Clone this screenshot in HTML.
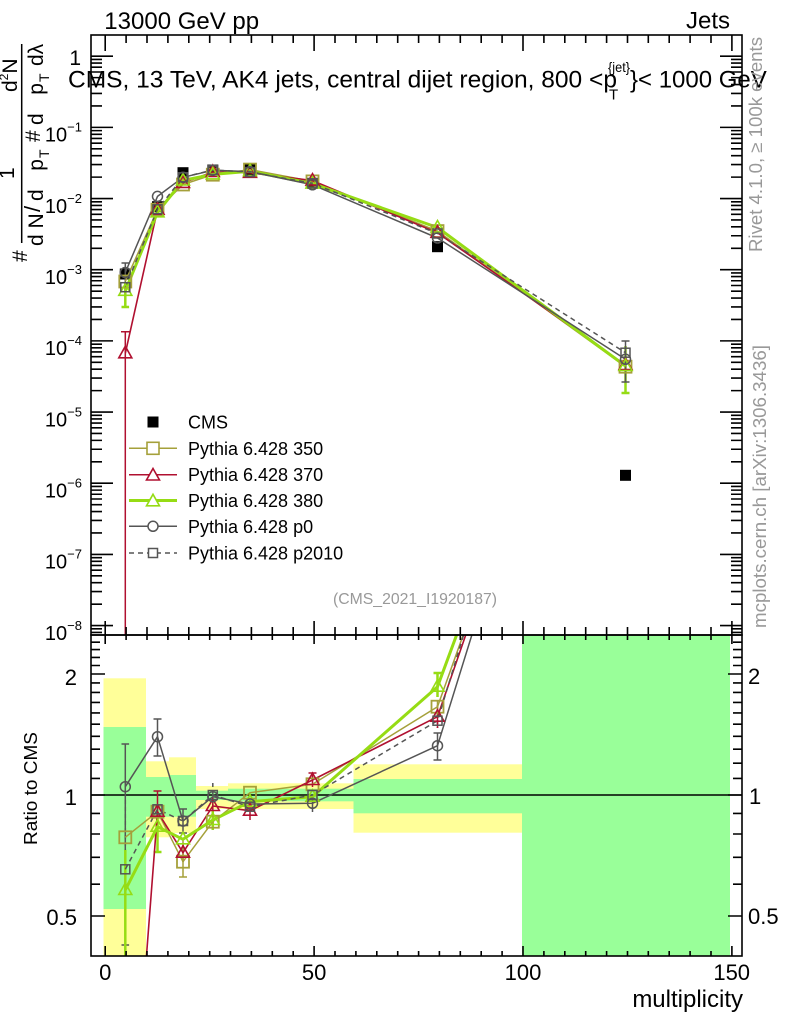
<!DOCTYPE html>
<html><head><meta charset="utf-8"><style>
html,body{margin:0;padding:0;background:#fff;width:786px;height:1024px;overflow:hidden;}
svg{display:block;}
text{font-family:"Liberation Sans",Arial,sans-serif;}
</style></head><body>
<svg width="786" height="1024" viewBox="0 0 786 1024" xmlns="http://www.w3.org/2000/svg" xmlns:xlink="http://www.w3.org/1999/xlink">
<defs>
<clipPath id="cm"><rect x="91" y="35" width="651" height="600"/></clipPath>
<clipPath id="cr"><rect x="91" y="635" width="651" height="321"/></clipPath>
<rect id="s12" x="-6" y="-6" width="12" height="12"/>
<path id="tri" d="M0,-7 L6.5,4.5 L-6.5,4.5Z"/>
<circle id="cir" r="5"/>
<rect id="s9" x="-4.5" y="-4.5" width="9" height="9"/>
<rect id="cms" x="-5.5" y="-5.5" width="11" height="11"/>
<path id="minL" d="M91 59.46h11M91 63.1h11M91 67.23h11M91 71.99h11M91 77.63h11M91 84.52h11M91 93.41h11M91 105.95h11M91 130.63h11M91 134.27h11M91 138.4h11M91 143.16h11M91 148.8h11M91 155.69h11M91 164.58h11M91 177.12h11M91 201.8h11M91 205.44h11M91 209.57h11M91 214.33h11M91 219.97h11M91 226.86h11M91 235.75h11M91 248.29h11M91 272.97h11M91 276.61h11M91 280.74h11M91 285.5h11M91 291.14h11M91 298.03h11M91 306.92h11M91 319.46h11M91 344.14h11M91 347.78h11M91 351.91h11M91 356.67h11M91 362.31h11M91 369.2h11M91 378.09h11M91 390.63h11M91 415.31h11M91 418.95h11M91 423.08h11M91 427.84h11M91 433.48h11M91 440.37h11M91 449.26h11M91 461.8h11M91 486.48h11M91 490.12h11M91 494.25h11M91 499.01h11M91 504.65h11M91 511.54h11M91 520.43h11M91 532.97h11M91 557.65h11M91 561.29h11M91 565.42h11M91 570.18h11M91 575.82h11M91 582.71h11M91 591.6h11M91 604.14h11M91 628.82h11M91 632.46h11M91 56.2h22M91 127.37h22M91 198.54h22M91 269.71h22M91 340.88h22M91 412.05h22M91 483.22h22M91 554.39h22M91 625.56h22"/>
<path id="rL" d="M91 884.2h9M91 857.3h9M91 834h9M91 813.4h9M91 778.4h9M91 763.2h9M91 749.2h9M91 736.3h9M91 724.2h9M91 712.9h9M91 702.4h9M91 692.4h9M91 682.9h9M91 665.5h9M91 657.4h9M91 649.6h9M91 642.2h9M91 916h14M91 795h14M91 674h14"/>
</defs>

<!-- ratio bands -->
<g>
<rect x="103.5" y="678.3" width="42.5" height="277.7" fill="#ffff99"/>
<rect x="103.5" y="727" width="42.5" height="182" fill="#99ff99"/>
<rect x="146" y="761.3" width="23" height="76" fill="#ffff99"/>
<rect x="146" y="777" width="23" height="39.7" fill="#99ff99"/>
<rect x="169" y="757.3" width="27" height="75.7" fill="#ffff99"/>
<rect x="169" y="775" width="27" height="41.7" fill="#99ff99"/>
<rect x="196" y="786" width="32" height="23" fill="#ffff99"/>
<rect x="196" y="790.7" width="32" height="9.3" fill="#99ff99"/>
<rect x="228" y="783.3" width="125.5" height="25.7" fill="#ffff99"/>
<rect x="228" y="788.7" width="125.5" height="12.6" fill="#99ff99"/>
<rect x="353.5" y="764.3" width="168.5" height="68.4" fill="#ffff99"/>
<rect x="353.5" y="779" width="168.5" height="34.3" fill="#99ff99"/>
<rect x="522" y="635" width="208" height="321" fill="#99ff99"/>
</g>
<line x1="91" y1="795" x2="742" y2="795" stroke="#000" stroke-width="1.5"/>

<!-- MAIN PANEL -->
<g clip-path="url(#cm)">
<g fill="#000"><use xlink:href="#cms" x="125.3" y="274"/><use xlink:href="#cms" x="157.5" y="206.7"/><use xlink:href="#cms" x="183" y="172.7"/><use xlink:href="#cms" x="212.8" y="170"/><use xlink:href="#cms" x="250" y="170"/><use xlink:href="#cms" x="312.5" y="183.3"/><use xlink:href="#cms" x="437.5" y="246.7"/><use xlink:href="#cms" x="625.5" y="475.3"/></g>
<g fill="none" stroke-width="1.5">
<path d="M125.3 331.7V636M121 331.7h8.6" stroke="#b01030"/>
<path d="M125.3 282V307M121.5 307h7.6M625.5 346V393M621.5 393h8" stroke="#96dc14" stroke-width="2.5"/>
<path d="M125.3 263V283M121.5 263h7.6M625.5 341V382M621.5 341h8M621.5 382h8" stroke="#555"/>
</g>
<g fill="none" stroke-linejoin="round">
<polyline points="125.3,281.5 157.5,209.7 183,184.5 212.8,174.7 250,169.6 312.5,181.4 437.5,231.1 625.5,366.7" stroke="#a5a03a" stroke-width="1.5"/>
<polyline points="125.3,353.3 157.5,209.7 183,182.9 212.8,172 250,172.8 312.5,180.6 437.5,232.8 625.5,365" stroke="#b01030" stroke-width="1.6"/>
<polyline points="125.3,290.8 157.5,212.3 183,180.5 212.8,174.4 250,171.2 312.5,183.6 437.5,227.5 625.5,366" stroke="#96dc14" stroke-width="3"/>
<polyline points="125.3,272.5 157.5,196.4 183,177.3 212.8,170.3 250,171.6 312.5,184.8 437.5,238 625.5,359.3" stroke="#555" stroke-width="1.5"/>
<polyline points="125.3,287.2 157.5,209.2 183,177.3 212.8,170 250,172.1 312.5,183.3 437.5,233.5 625.5,352.7" stroke="#555" stroke-width="1.5" stroke-dasharray="5,4"/>
</g>
<g fill="none" stroke="#a5a03a" stroke-width="1.8"><use xlink:href="#s12" x="125.3" y="281.5"/><use xlink:href="#s12" x="157.5" y="209.7"/><use xlink:href="#s12" x="183" y="184.5"/><use xlink:href="#s12" x="212.8" y="174.7"/><use xlink:href="#s12" x="250" y="169.6"/><use xlink:href="#s12" x="312.5" y="181.4"/><use xlink:href="#s12" x="437.5" y="231.1"/><use xlink:href="#s12" x="625.5" y="366.7"/></g>
<g fill="none" stroke="#b01030" stroke-width="1.6"><use xlink:href="#tri" x="125.3" y="353.3"/><use xlink:href="#tri" x="157.5" y="209.7"/><use xlink:href="#tri" x="183" y="182.9"/><use xlink:href="#tri" x="212.8" y="172"/><use xlink:href="#tri" x="250" y="172.8"/><use xlink:href="#tri" x="312.5" y="180.6"/><use xlink:href="#tri" x="437.5" y="232.8"/><use xlink:href="#tri" x="625.5" y="365"/></g>
<g fill="none" stroke="#96dc14" stroke-width="1.6"><use xlink:href="#tri" x="125.3" y="290.8"/><use xlink:href="#tri" x="157.5" y="212.3"/><use xlink:href="#tri" x="183" y="180.5"/><use xlink:href="#tri" x="212.8" y="174.4"/><use xlink:href="#tri" x="250" y="171.2"/><use xlink:href="#tri" x="312.5" y="183.6"/><use xlink:href="#tri" x="437.5" y="227.5"/><use xlink:href="#tri" x="625.5" y="366"/></g>
<g fill="none" stroke="#555" stroke-width="1.5"><use xlink:href="#cir" x="125.3" y="272.5"/><use xlink:href="#cir" x="157.5" y="196.4"/><use xlink:href="#cir" x="183" y="177.3"/><use xlink:href="#cir" x="212.8" y="170.3"/><use xlink:href="#cir" x="250" y="171.6"/><use xlink:href="#cir" x="312.5" y="184.8"/><use xlink:href="#cir" x="437.5" y="238"/><use xlink:href="#cir" x="625.5" y="359.3"/></g>
<g fill="none" stroke="#555" stroke-width="1.5"><use xlink:href="#s9" x="125.3" y="287.2"/><use xlink:href="#s9" x="157.5" y="209.2"/><use xlink:href="#s9" x="183" y="177.3"/><use xlink:href="#s9" x="212.8" y="170"/><use xlink:href="#s9" x="250" y="172.1"/><use xlink:href="#s9" x="312.5" y="183.3"/><use xlink:href="#s9" x="437.5" y="233.5"/><use xlink:href="#s9" x="625.5" y="352.7"/></g>
</g>

<!-- RATIO PANEL -->
<g clip-path="url(#cr)">
<g fill="none" stroke-width="1.5">
<path d="M125.3 744V945M121.5 744h7.6M121.5 945h7.6M157.5 719V756M153.5 719h8M153.5 756h8M183 809V833M179 809h8M179 833h8M437.5 733V760M433.5 733h8M433.5 760h8M312.5 796V812" stroke="#555"/>
<path d="M125.3 800V958M212.8 783V805M437.5 713V728" stroke="#555" stroke-dasharray="4,3"/>
<path d="M157.5 791V833M153.5 791h8M212.8 798V815M250 800V820M312.5 773V787M308.5 773h8M437.5 705V728M183 845V862" stroke="#b01030"/>
<path d="M183 840V877M179 877h8M437.5 700V715" stroke="#a5a03a"/>
<path d="M125.3 850V958M157.5 815V852M153.5 852h8M212.8 810V830M437.5 673V697M433.5 673h8" stroke="#96dc14" stroke-width="2.5"/>
</g>
<g fill="none" stroke-linejoin="round">
<polyline points="125.3,837.3 157.5,811.7 183,861.7 212.8,821.7 250,792.7 312.5,784.3 437.5,706.7 625.5,181.6" stroke="#a5a03a" stroke-width="1.5"/>
<polyline points="146.3,958 157.5,811.7 183,852.7 212.8,806 250,810.7 312.5,780 437.5,716.7 625.5,172.4" stroke="#b01030" stroke-width="1.6"/>
<polyline points="125.3,890 157.5,826.7 183,839.3 212.8,820 250,801.7 312.5,796.7 437.5,686.7 625.5,177.6" stroke="#96dc14" stroke-width="3"/>
<polyline points="125.3,786.7 157.5,736.7 183,821 212.8,796.7 250,804 312.5,803.3 437.5,745.7 625.5,140" stroke="#555" stroke-width="1.5"/>
<polyline points="125.3,869.3 157.5,809.3 183,821 212.8,795 250,806.7 312.5,795 437.5,720.7 625.5,102.5" stroke="#555" stroke-width="1.5" stroke-dasharray="5,4"/>
</g>
<g fill="none" stroke="#a5a03a" stroke-width="1.8"><use xlink:href="#s12" x="125.3" y="837.3"/><use xlink:href="#s12" x="157.5" y="811.7"/><use xlink:href="#s12" x="183" y="861.7"/><use xlink:href="#s12" x="212.8" y="821.7"/><use xlink:href="#s12" x="250" y="792.7"/><use xlink:href="#s12" x="312.5" y="784.3"/><use xlink:href="#s12" x="437.5" y="706.7"/></g>
<g fill="none" stroke="#b01030" stroke-width="1.6"><use xlink:href="#tri" x="157.5" y="811.7"/><use xlink:href="#tri" x="183" y="852.7"/><use xlink:href="#tri" x="212.8" y="806"/><use xlink:href="#tri" x="250" y="810.7"/><use xlink:href="#tri" x="312.5" y="780"/><use xlink:href="#tri" x="437.5" y="716.7"/></g>
<g fill="none" stroke="#96dc14" stroke-width="1.6"><use xlink:href="#tri" x="125.3" y="890"/><use xlink:href="#tri" x="157.5" y="826.7"/><use xlink:href="#tri" x="183" y="839.3"/><use xlink:href="#tri" x="212.8" y="820"/><use xlink:href="#tri" x="250" y="801.7"/><use xlink:href="#tri" x="312.5" y="796.7"/><use xlink:href="#tri" x="437.5" y="686.7"/></g>
<g fill="none" stroke="#555" stroke-width="1.5"><use xlink:href="#cir" x="125.3" y="786.7"/><use xlink:href="#cir" x="157.5" y="736.7"/><use xlink:href="#cir" x="183" y="821"/><use xlink:href="#cir" x="212.8" y="796.7"/><use xlink:href="#cir" x="250" y="804"/><use xlink:href="#cir" x="312.5" y="803.3"/><use xlink:href="#cir" x="437.5" y="745.7"/></g>
<g fill="none" stroke="#555" stroke-width="1.5"><use xlink:href="#s9" x="125.3" y="869.3"/><use xlink:href="#s9" x="157.5" y="809.3"/><use xlink:href="#s9" x="183" y="821"/><use xlink:href="#s9" x="212.8" y="795"/><use xlink:href="#s9" x="250" y="806.7"/><use xlink:href="#s9" x="312.5" y="795"/><use xlink:href="#s9" x="437.5" y="720.7"/></g>
</g>

<!-- frames & ticks -->
<g fill="none" stroke="#000" stroke-width="1.6">
<rect x="91" y="35" width="651" height="600"/>
<rect x="91" y="635" width="651" height="321"/>
<use xlink:href="#minL"/>
<use xlink:href="#minL" transform="translate(833,0) scale(-1,1)"/>
<use xlink:href="#rL"/>
<use xlink:href="#rL" transform="translate(833,0) scale(-1,1)"/>
<path d="M105.2 35v16M314.1 35v16M523 35v16M731.9 35v16M126.1 35v8M147 35v8M167.9 35v8M188.8 35v8M209.7 35v8M230.5 35v8M251.4 35v8M272.3 35v8M293.2 35v8M335 35v8M355.9 35v8M376.8 35v8M397.7 35v8M418.6 35v8M439.4 35v8M460.3 35v8M481.2 35v8M502.1 35v8M543.9 35v8M564.8 35v8M585.7 35v8M606.6 35v8M627.5 35v8M648.3 35v8M669.2 35v8M690.1 35v8M711 35v8"/>
<path d="M105.2 621v23M314.1 621v23M523 621v23M731.9 621v23M126.1 627v13M147 627v13M167.9 627v13M188.8 627v13M209.7 627v13M230.5 627v13M251.4 627v13M272.3 627v13M293.2 627v13M335 627v13M355.9 627v13M376.8 627v13M397.7 627v13M418.6 627v13M439.4 627v13M460.3 627v13M481.2 627v13M502.1 627v13M543.9 627v13M564.8 627v13M585.7 627v13M606.6 627v13M627.5 627v13M648.3 627v13M669.2 627v13M690.1 627v13M711 627v13"/>
<path d="M105.2 956v-10M314.1 956v-10M523 956v-10M731.9 956v-10M126.1 956v-5M147 956v-5M167.9 956v-5M188.8 956v-5M209.7 956v-5M230.5 956v-5M251.4 956v-5M272.3 956v-5M293.2 956v-5M335 956v-5M355.9 956v-5M376.8 956v-5M397.7 956v-5M418.6 956v-5M439.4 956v-5M460.3 956v-5M481.2 956v-5M502.1 956v-5M543.9 956v-5M564.8 956v-5M585.7 956v-5M606.6 956v-5M627.5 956v-5M648.3 956v-5M669.2 956v-5M690.1 956v-5M711 956v-5"/>
</g>

<!-- top texts -->
<text x="104.3" y="29" font-size="24">13000 GeV pp</text>
<text x="730" y="28.5" font-size="24" text-anchor="end">Jets</text>
<text x="68" y="87.3" font-size="24" textLength="549" lengthAdjust="spacingAndGlyphs">CMS, 13 TeV, AK4 jets, central dijet region, 800 &lt;p</text>
<text x="608" y="72" font-size="14" textLength="22" lengthAdjust="spacingAndGlyphs">{jet}</text>
<text x="609" y="99.3" font-size="15">T</text>
<text x="630" y="87.3" font-size="24">}&lt; 1000 GeV</text>

<!-- main y labels -->
<g font-size="20" text-anchor="end">
<text x="81" y="65" font-size="21">1</text>
<text x="82" y="141.7">10<tspan font-size="13" dy="-10">−1</tspan></text>
<text x="82" y="212.8">10<tspan font-size="13" dy="-10">−2</tspan></text>
<text x="82" y="284">10<tspan font-size="13" dy="-10">−3</tspan></text>
<text x="82" y="355.2">10<tspan font-size="13" dy="-10">−4</tspan></text>
<text x="82" y="426.4">10<tspan font-size="13" dy="-10">−5</tspan></text>
<text x="82" y="497.5">10<tspan font-size="13" dy="-10">−6</tspan></text>
<text x="82" y="568.7">10<tspan font-size="13" dy="-10">−7</tspan></text>
<text x="82" y="639.9">10<tspan font-size="13" dy="-10">−8</tspan></text>
</g>

<!-- y axis title (rotated) -->
<g font-size="21">
<line x1="21.7" y1="44" x2="21.7" y2="243" stroke="#000" stroke-width="1.5"/>
<text transform="translate(27,262) rotate(-90)">#</text>
<text transform="translate(14,179) rotate(-90)">1</text>
<text transform="translate(17,92) rotate(-90)">d<tspan font-size="12" dy="-9">2</tspan><tspan dy="9">N</tspan></text>
<text transform="translate(43,246) rotate(-90)">d N</text>
<text transform="translate(40,212) rotate(-90)" font-size="22">/</text>
<text transform="translate(43,201) rotate(-90)" textLength="42" lengthAdjust="spacing">d p</text>
<text transform="translate(49,158) rotate(-90)" font-size="14">T</text>
<text transform="translate(40,142) rotate(-90)">#</text>
<text transform="translate(43,125) rotate(-90)" textLength="42" lengthAdjust="spacing">d p</text>
<text transform="translate(49,82) rotate(-90)" font-size="14">T</text>
<text transform="translate(43,66) rotate(-90)">dλ</text>
</g>

<!-- right rotated texts -->
<text transform="translate(762,252) rotate(-90)" font-size="18" fill="#999" textLength="215" lengthAdjust="spacingAndGlyphs">Rivet 4.1.0, ≥ 100k events</text>
<text transform="translate(766,628) rotate(-90)" font-size="18" fill="#999" textLength="283" lengthAdjust="spacingAndGlyphs">mcplots.cern.ch [arXiv:1306.3436]</text>

<!-- legend -->
<g>
<rect x="147.5" y="416.5" width="11" height="11" fill="#000"/>
<line x1="129" y1="448.3" x2="177" y2="448.3" stroke="#a5a03a" stroke-width="1.5"/>
<use xlink:href="#s12" x="153" y="448.3" fill="#fff" stroke="#a5a03a" stroke-width="1.6"/>
<line x1="129" y1="474.7" x2="177" y2="474.7" stroke="#b01030" stroke-width="1.5"/>
<use xlink:href="#tri" x="153" y="475.5" fill="#fff" stroke="#b01030" stroke-width="1.6"/>
<line x1="129" y1="500.5" x2="177" y2="500.5" stroke="#96dc14" stroke-width="3"/>
<use xlink:href="#tri" x="153" y="501.3" fill="#fff" stroke="#96dc14" stroke-width="1.6"/>
<line x1="129" y1="526.3" x2="177" y2="526.3" stroke="#555" stroke-width="1.5"/>
<use xlink:href="#cir" x="153" y="526.3" fill="#fff" stroke="#555" stroke-width="1.5"/>
<line x1="129" y1="553" x2="177" y2="553" stroke="#555" stroke-width="1.5" stroke-dasharray="5,4"/>
<use xlink:href="#s9" x="153" y="553" fill="#fff" stroke="#555" stroke-width="1.5"/>
<g font-size="18">
<text x="188" y="428.5">CMS</text>
<text x="188" y="454.8">Pythia 6.428 350</text>
<text x="188" y="481.2">Pythia 6.428 370</text>
<text x="188" y="507">Pythia 6.428 380</text>
<text x="188" y="532.8">Pythia 6.428 p0</text>
<text x="188" y="559.5">Pythia 6.428 p2010</text>
</g>
</g>
<text x="333" y="604" font-size="16" fill="#999" textLength="164" lengthAdjust="spacingAndGlyphs">(CMS_2021_I1920187)</text>

<!-- ratio labels -->
<g font-size="22">
<text x="77" y="685" text-anchor="end">2</text>
<text x="77" y="805" text-anchor="end">1</text>
<text x="77" y="925" text-anchor="end">0.5</text>
<text x="748" y="684">2</text>
<text x="749" y="804">1</text>
<text x="748" y="924">0.5</text>
</g>
<text transform="translate(37,845) rotate(-90)" font-size="18" textLength="113" lengthAdjust="spacingAndGlyphs">Ratio to CMS</text>

<!-- x labels -->
<g font-size="22" text-anchor="middle">
<text x="105.2" y="980">0</text>
<text x="314.1" y="980">50</text>
<text x="523" y="980">100</text>
<text x="731.7" y="980">150</text>
</g>
<text x="743" y="1007" font-size="24" text-anchor="end">multiplicity</text>
</svg>
</body></html>
